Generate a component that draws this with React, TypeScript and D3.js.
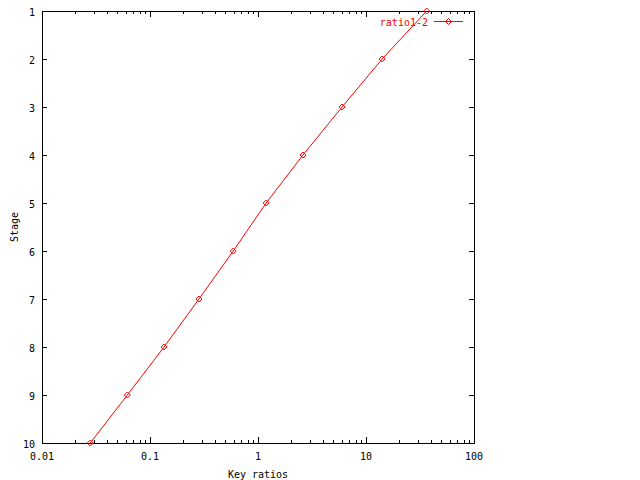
import React from "react";
import * as d3 from "d3";

const stages = [1, 2, 3, 4, 5, 6, 7, 8, 9, 10];
const ratios = [36.5, 14.1, 6.0, 2.61, 1.19, 0.59, 0.284, 0.135, 0.0617, 0.028];
const xTickValues = [0.01, 0.1, 1, 10, 100];
const xTickLabels = ["0.01", "0.1", "1", "10", "100"];
const yTickValues = [1, 2, 3, 4, 5, 6, 7, 8, 9, 10];
const seriesName = "ratio1-2";

const W = 640, H = 480;
const L = 42, R = 474, T = 11, B = 443;
const FONT = "'DejaVu Sans Mono', monospace";

export default function App() {
  const x = d3.scaleLog().domain([0.01, 100]).range([L, R]);
  const y = d3.scaleLinear().domain([1, 10]).range([T, B]);
  const minor: number[] = [];
  for (let d = 0.01; d < 100; d *= 10) {
    for (let k = 2; k <= 9; k++) minor.push(d * k);
  }
  const line = d3.line<number>().x((_, i) => x(ratios[i])).y((_, i) => y(stages[i]));
  const pts = stages.map((s, i) => [x(ratios[i]), y(s)]);
  const diamond = (cx: number, cy: number) =>
    `M${cx},${cy - 3}L${cx + 3},${cy}L${cx},${cy + 3}L${cx - 3},${cy}Z`;
  return (
    <svg width={W} height={H} style={{ position: "absolute", left: 0, top: 0, background: "#fff" }}>
      <rect x={0} y={0} width={W} height={H} fill="#fff" />
      <g stroke="#000" strokeWidth={1} shapeRendering="crispEdges" fill="none">
        <rect x={L + 0.5} y={T + 0.5} width={R - L} height={B - T} />
        {xTickValues.map((v) => (
          <g key={"xm" + v}>
            <line x1={x(v) + 0.5} x2={x(v) + 0.5} y1={B} y2={B - 6} />
            <line x1={x(v) + 0.5} x2={x(v) + 0.5} y1={T} y2={T + 6} />
          </g>
        ))}
        {minor.map((v) => (
          <g key={"xn" + v}>
            <line x1={Math.round(x(v)) + 0.5} x2={Math.round(x(v)) + 0.5} y1={B} y2={B - 3} />
            <line x1={Math.round(x(v)) + 0.5} x2={Math.round(x(v)) + 0.5} y1={T} y2={T + 3} />
          </g>
        ))}
        {yTickValues.map((v) => (
          <g key={"y" + v}>
            <line x1={L} x2={L + 5} y1={y(v) + 0.5} y2={y(v) + 0.5} />
            <line x1={R} x2={R - 5} y1={y(v) + 0.5} y2={y(v) + 0.5} />
          </g>
        ))}
      </g>
      <g fontFamily={FONT} fontSize={10} fill="#000">
        {xTickValues.map((v, i) => (
          <text key={"xl" + v} x={x(v)} y={456} textAnchor="middle" dominantBaseline="central">
            {xTickLabels[i]}
          </text>
        ))}
        {yTickValues.map((v) => (
          <text key={"yl" + v} x={35} y={y(v) + 1} textAnchor="end" dominantBaseline="central">
            {v}
          </text>
        ))}
        <text x={(L + R) / 2} y={474} textAnchor="middle" dominantBaseline="central">Key ratios</text>
        <text transform={`translate(14,${(T + B) / 2}) rotate(-90)`} textAnchor="middle" dominantBaseline="central">
          Stage
        </text>
      </g>
      <path d={line(stages) || ""} fill="none" stroke="#f00" strokeWidth={1} />
      {pts.map(([cx, cy], i) => (
        <path key={"p" + i} d={diamond(cx, cy)} fill="none" stroke="#f00" strokeWidth={1} />
      ))}
      <text x={428} y={22} textAnchor="end" dominantBaseline="central" fontFamily={FONT} fontSize={10} fill="#f00">
        {seriesName}
      </text>
      <line x1={434} x2={463} y1={21.5} y2={21.5} stroke="#f00" strokeWidth={1} />
      <path d={diamond(448.5, 21.5)} fill="none" stroke="#f00" strokeWidth={1} />
    </svg>
  );
}
